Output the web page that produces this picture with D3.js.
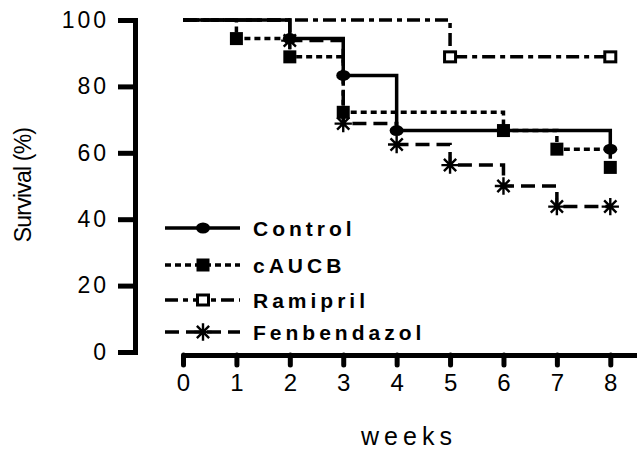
<!DOCTYPE html>
<html><head><meta charset="utf-8">
<script src="https://cdn.jsdelivr.net/npm/d3@7"></script>
<style>
html,body{margin:0;padding:0;background:#fff;}
svg{display:block;}
text{font-family:"Liberation Sans",Arial,sans-serif;fill:#000;}
</style></head>
<body>
<svg id="c" width="637" height="450"></svg>
<script>
// ---- data (Kaplan–Meier survival, %) ----
const seriesNames = ["Control", "cAUCB", "Ramipril", "Fenbendazol"];
const controlWeeks = [0, 2, 3, 4, 8];
const controlSurv  = [100, 94.4, 83.3, 66.7, 61.1];
const caucbWeeks   = [0, 1, 2, 3, 6, 7, 8];
const caucbSurv    = [100, 94.4, 88.9, 72.2, 66.7, 61.1, 55.6];
const ramiprilWeeks = [0, 5, 8];
const ramiprilSurv  = [100, 88.9, 88.9];
const fenWeeks = [0, 2, 3, 4, 5, 6, 7, 8];
const fenSurv  = [100, 93.8, 68.8, 62.5, 56.3, 50, 43.8, 43.8];
const xTicks = [0, 1, 2, 3, 4, 5, 6, 7, 8];
const yTicks = [0, 20, 40, 60, 80, 100];

const svg = d3.select("#c");
const x = d3.scaleLinear().domain([0, 8.5]).range([183, 637]);
const y = d3.scaleLinear().domain([0, 100]).range([352, 20]);

// star symbol (8 spokes)
const star8 = {draw(ctx, size){
  const r = Math.sqrt(size) / 2, d = r * Math.SQRT1_2;
  ctx.moveTo(-r, 0); ctx.lineTo(r, 0);
  ctx.moveTo(0, -r); ctx.lineTo(0, r);
  ctx.moveTo(-d, -d); ctx.lineTo(d, d);
  ctx.moveTo(-d, d); ctx.lineTo(d, -d);
}};

const styles = {
  "Control":     {dash: null,        marker: "circle"},
  "cAUCB":       {dash: "6,4",       marker: "square"},
  "Ramipril":    {dash: "13,5,5,5",  marker: "open"},
  "Fenbendazol": {dash: "14,7",      marker: "star"}
};
const series = [
  {name: "Ramipril", w: ramiprilWeeks, s: ramiprilSurv},
  {name: "Fenbendazol", w: fenWeeks, s: fenSurv},
  {name: "cAUCB", w: caucbWeeks, s: caucbSurv},
  {name: "Control", w: controlWeeks, s: controlSurv}
];

function drawMarker(g, type, cx, cy){
  if (type === "circle") {
    g.append("ellipse").attr("cx", cx).attr("cy", cy).attr("rx", 7).attr("ry", 5.5).attr("fill", "#000");
  } else if (type === "square") {
    g.append("rect").attr("x", cx - 6.5).attr("y", cy - 6.5).attr("width", 13).attr("height", 13).attr("fill", "#000");
  } else if (type === "open") {
    g.append("rect").attr("x", cx - 5.5).attr("y", cy - 5).attr("width", 11).attr("height", 10)
      .attr("fill", "#fff").attr("stroke", "#000").attr("stroke-width", 3);
  } else {
    g.append("path").attr("transform", `translate(${cx},${cy})`)
      .attr("d", d3.symbol().type(star8).size(300)())
      .attr("fill", "none").attr("stroke", "#000").attr("stroke-width", 2.4);
  }
}

const line = d3.line().curve(d3.curveStepAfter).x(d => x(d[0])).y(d => y(d[1]));
const plot = svg.append("g");
series.forEach(sr => {
  const pts = sr.w.map((w, i) => [w, sr.s[i]]);
  const st = styles[sr.name];
  plot.append("path").attr("d", line(pts)).attr("fill", "none").attr("stroke", "#000")
    .attr("stroke-width", 3.5).attr("stroke-dasharray", st.dash);
  pts.slice(1).forEach(p => drawMarker(plot, st.marker, x(p[0]), y(p[1])));
});

// ---- axes ----
const yAxis = d3.axisLeft(y).tickValues(yTicks).tickSize(17).tickSizeOuter(0).tickPadding(9);
const gy = svg.append("g").attr("transform", "translate(135,0)").call(yAxis);
gy.select(".domain").attr("stroke-width", 5).attr("stroke-linecap", "square");
gy.selectAll(".tick line").attr("stroke-width", 5);
gy.selectAll(".tick text").attr("font-size", 23).attr("letter-spacing", 3)
  .attr("font-family", "Liberation Sans, Arial, sans-serif").attr("fill", "#000");

const xAxis = d3.axisBottom(x).tickValues(xTicks).tickSize(10).tickSizeOuter(0).tickPadding(9);
const gx = svg.append("g").attr("transform", "translate(0,355)").call(xAxis);
gx.select(".domain").attr("stroke-width", 5);
gx.selectAll(".tick line").attr("stroke-width", 5).attr("stroke-linecap", "round");
gx.selectAll(".tick text").attr("font-size", 24)
  .attr("font-family", "Liberation Sans, Arial, sans-serif").attr("fill", "#000");

svg.append("text").attr("x", 409).attr("y", 445).attr("text-anchor", "middle")
  .attr("font-size", 25).attr("letter-spacing", 5).text("weeks");
svg.append("text").attr("transform", "translate(31,185) rotate(-90)").attr("text-anchor", "middle")
  .attr("font-size", 23).attr("letter-spacing", -0.8).text("Survival (%)");

// ---- legend ----
const legendY = [228, 265, 300, 332];
const leg = svg.append("g");
seriesNames.forEach((n, i) => {
  const st = styles[n];
  const ly = legendY[i];
  leg.append("line").attr("x1", 165).attr("x2", 240).attr("y1", ly).attr("y2", ly)
    .attr("stroke", "#000").attr("stroke-width", 3.5).attr("stroke-dasharray", st.dash);
  drawMarker(leg, st.marker, 203, ly);
  leg.append("text").attr("x", 253).attr("y", ly + 8).attr("font-size", 21)
    .attr("font-weight", "bold").attr("letter-spacing", 4).text(n);
});
</script>
</body></html>
